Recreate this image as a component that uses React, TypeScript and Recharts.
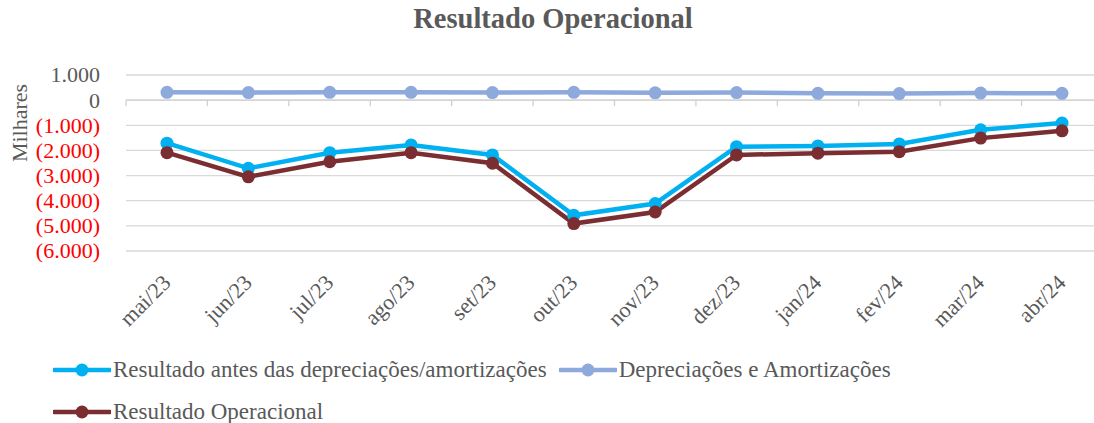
import React from 'react';
import { LineChart, Line, XAxis, YAxis, CartesianGrid, ReferenceLine } from 'recharts';

const months = ['mai/23', 'jun/23', 'jul/23', 'ago/23', 'set/23', 'out/23', 'nov/23', 'dez/23', 'jan/24', 'fev/24', 'mar/24', 'abr/24'];
const antesDepreciacoes = [-1710, -2710, -2090, -1780, -2180, -4580, -4110, -1850, -1820, -1740, -1180, -910];
const depreciacoes = [310, 300, 310, 310, 300, 310, 290, 300, 270, 260, 280, 270];
const resultadoOperacional = [-2090, -3050, -2450, -2090, -2510, -4910, -4450, -2180, -2110, -2050, -1510, -1220];
const yTicks = [1000, 0, -1000, -2000, -3000, -4000, -5000, -6000];

const series = [
  { key: 'antes', name: 'Resultado antes das depreciações/amortizações', color: '#00B0F0' },
  { key: 'dep', name: 'Depreciações e Amortizações', color: '#8EA9DB' },
  { key: 'op', name: 'Resultado Operacional', color: '#7B2E31' },
];

const data = months.map((m, i) => ({
  month: m,
  antes: antesDepreciacoes[i],
  dep: depreciacoes[i],
  op: resultadoOperacional[i],
}));

const FONT = 'Liberation Serif, DejaVu Serif, Times New Roman, serif';
const GRAY = '#595959';

const fmtY = (v: number) => {
  const s = Math.abs(v).toLocaleString('pt-BR');
  return v < 0 ? `(${s})` : s;
};

const YTick = (props: any) => {
  const { x, y, payload } = props;
  const v = payload.value as number;
  return (
    <text x={x} y={y} dy="0.34em" textAnchor="end" style={{ fontFamily: FONT }} fontSize={22} fill={v < 0 ? '#FF0000' : GRAY}>
      {fmtY(v)}
    </text>
  );
};

const XTick = (props: any) => {
  const { x, y, payload } = props;
  const ax = x + 5;
  const ay = y + 31;
  return (
    <text x={ax} y={ay} textAnchor="end" transform={`rotate(-45, ${ax}, ${ay})`} style={{ fontFamily: FONT }} fontSize={22} fill={GRAY}>
      {payload.value}
    </text>
  );
};

// axis line at zero with tick marks between categories
const ZeroAxis = (props: any) => {
  const { x1, y1, x2 } = props;
  const step = (x2 - x1) / months.length;
  const marks = [];
  for (let i = 0; i <= months.length; i++) {
    const mx = x1 + step * i;
    marks.push(<line key={i} x1={mx} x2={mx} y1={y1} y2={y1 + 6} stroke="#D0D0D0" strokeWidth={1.3} />);
  }
  return (
    <g>
      <line x1={x1} x2={x2} y1={y1} y2={y1} stroke="#D0D0D0" strokeWidth={1.3} />
      {marks}
    </g>
  );
};

const MilharesLabel = (props: any) => {
  const { viewBox } = props;
  const cx = 20;
  const cy = viewBox.y + 48;
  return (
    <text x={cx} y={cy} dy="0.34em" textAnchor="middle" transform={`rotate(-90, ${cx}, ${cy})`} style={{ fontFamily: FONT }} fontSize={22} fill={GRAY}>
      Milhares
    </text>
  );
};

const Legend = () => {
  const item = (s: typeof series[0]) => (
    <div key={s.key} style={{ display: 'flex', alignItems: 'center', marginRight: 12 }}>
      <svg width={58} height={16} style={{ marginRight: 2 }}>
        <line x1={1} x2={57} y1={8} y2={8} stroke={s.color} strokeWidth={4.5} strokeLinecap="round" />
        <circle cx={29} cy={8} r={6.5} fill={s.color} />
      </svg>
      <span>{s.name}</span>
    </div>
  );
  return (
    <div style={{ position: 'absolute', left: 53, top: 356, width: 1040, fontFamily: FONT, fontSize: 23, color: GRAY, lineHeight: '27px' }}>
      <div style={{ display: 'flex' }}>{item(series[0])}{item(series[1])}</div>
      <div style={{ display: 'flex', marginTop: 15 }}>{item(series[2])}</div>
    </div>
  );
};

export default function App() {
  return (
    <div style={{ position: 'absolute', left: 0, top: 0, width: 1094, height: 423, overflow: 'hidden', background: '#fff' }}>
      <div style={{ position: 'absolute', left: 0, top: 3, width: 1094, textAlign: 'center', fontFamily: FONT, fontWeight: 'bold', fontSize: 28.5, color: GRAY, paddingLeft: 12, boxSizing: 'border-box' }}>
        Resultado Operacional
      </div>
      <div style={{ position: 'absolute', left: 0, top: 0 }}>
        <LineChart width={1110} height={423} data={data} margin={{ top: 75, right: 7, bottom: 112, left: 0 }}>
          <CartesianGrid horizontal vertical={false} stroke="#D9D9D9" strokeWidth={1.3} />
          <XAxis dataKey="month" height={60} axisLine={false} tickLine={false} tickSize={0} tick={<XTick />} interval={0} padding={{ left: 41, right: 41 }} />
          <YAxis
            width={126}
            domain={[-6000, 1000]}
            ticks={yTicks}
            interval={0}
            axisLine={false}
            tickLine={false}
            tickSize={0}
            tickMargin={26}
            tick={<YTick />}
            label={<MilharesLabel />}
          />
          <ReferenceLine y={0} shape={<ZeroAxis />} />
          {series.map((s) => (
            <Line
              key={s.key}
              dataKey={s.key}
              name={s.name}
              stroke={s.color}
              strokeWidth={4.5}
              dot={{ r: 6.5, fill: s.color, stroke: 'none' }}
              activeDot={false}
              isAnimationActive={false}
            />
          ))}
        </LineChart>
      </div>
      <Legend />
    </div>
  );
}
